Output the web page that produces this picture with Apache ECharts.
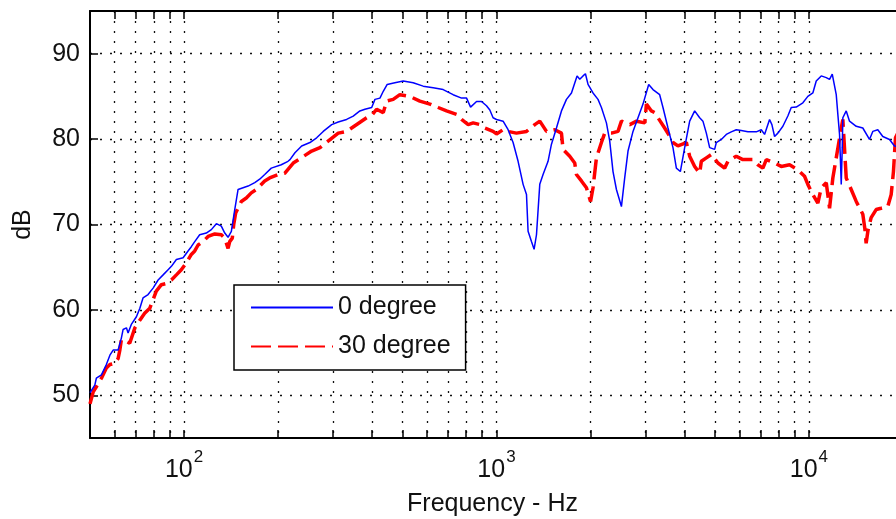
<!DOCTYPE html>
<html><head><meta charset="utf-8">
<script src="https://cdn.jsdelivr.net/npm/echarts@6/dist/echarts.min.js"></script>
<style>html,body{margin:0;padding:0;background:#fff}#c{width:896px;height:519px}</style>
</head><body><div id="c"></div>
<script>
const freq0 = [50,51.8,52.4,54.4,56.4,57.9,59.3,61.5,63.0,63.8,65.4,66.2,67.8,70.4,72.2,73.9,76.7,79.6,82.6,85.7,88.9,91.1,94.5,99.3,103,105.5,108.2,112.2,117.8,122.3,126.9,131.6,135,138.3,141.7,145.3,148.9,154.5,160.3,168.4,174.6,181.2,190.2,204.7,215.1,218.3,226.4,237.9,252.9,265.7,278.9,296.8,311.5,331.3,347.9,365.4,379.2,398.6,408.3,423.6,434.1,446.9,472.8,502.9,541.1,582.5,627.1,674.9,726.4,773,802.1,826,863.3,895.5,928.9,952,975.2,1000,1049.8,1089.2,1130.1,1172.5,1216.5,1247.4,1262.1,1294,1319.2,1342.6,1375.6,1409.3,1462.2,1499.3,1555.6,1614,1674.6,1737.5,1810.6,1846.9,1892.1,1925.9,1963.1,2036.7,2113.1,2166.8,2248.1,2303.1,2360,2420,2510.8,2572.3,2635.8,2734.7,2837.3,2943.7,3069.8,3168.3,3328.4,3410.6,3538.6,3671.4,3764,3876.6,4001.7,4152,4307.8,4469.4,4578.3,4694.6,4810.9,4871.1,4990.8,5052.9,5242.3,5438.1,5641.7,5853.1,6072.9,6377.5,6783.2,7038,7211.1,7481.5,7610.7,7762.6,7953.9,8252.5,8559.5,8777,9106.4,9561.9,9919,10291,10552,10949,11361,11641,11874,12229,12374,12530,12687,12781,12837,13162,13486,14169,14873,15623,16008,16610,17235,18106,18787,20000];
const db0 = [50.3,51.2,52.0,52.4,53.6,54.7,55.3,55.3,56.7,57.7,57.9,57.3,58.3,59.2,60.2,61.4,61.8,62.55,63.5,64.1,64.7,65.1,65.9,66.1,66.9,67.4,68.0,68.8,69.0,69.4,70.1,69.8,69.0,68.5,69.2,71.75,74.1,74.3,74.5,74.9,75.3,75.85,76.6,77.0,77.4,77.6,78.4,79.2,79.6,80.15,80.9,81.7,82.0,82.3,82.7,83.3,83.5,83.7,84.65,84.8,85.6,86.4,86.6,86.8,86.6,86.2,86.0,85.8,85.2,84.8,84.8,83.75,84.4,84.4,83.9,83.4,82.5,82.3,82.1,81.1,79.6,77.4,74.7,73.5,69.2,68.0,67.1,68.8,74.7,75.85,77.4,79.4,81.3,83.3,84.65,85.4,87.4,87.0,87.4,87.65,86.4,85.4,84.65,83.7,81.9,79.8,76.2,74.1,72.1,75.45,78.6,80.9,82.5,84.1,86.4,85.8,85.2,83.7,81.3,79.0,76.6,76.2,79.0,82.1,83.3,82.5,82.1,80.7,79.0,79.2,78.8,79.6,79.96,80.55,80.85,81.1,81.0,80.85,80.85,81.1,80.55,82.3,81.7,80.3,80.7,81.5,82.7,83.7,83.75,84.25,85.0,85.4,86.8,87.4,87.2,87.0,87.6,85.2,82.9,80.55,74.7,79.0,82.5,83.3,82.1,81.5,81.3,79.96,80.9,81.1,80.3,79.96,79.2,79.0];
const freq30 = [50,51.2,52.4,54.4,56.4,57.9,60.0,61.5,62.3,63.0,65.4,67.0,69.6,72.2,74.8,77.7,79.6,81.5,84.6,87.8,91.1,94.5,98,101.7,105.5,108.2,110.9,115,119.4,125.4,131.6,135,138.3,140,142.7,144.2,146.3,152.5,158.2,164.1,170.3,181.2,187.9,199.7,209.9,223.6,256.1,272.2,311.5,331.3,384,401.3,413.3,434.1,444.9,467,490.6,528.1,568.4,612,650.6,692,745,773,811.6,841.9,884.5,917.6,975.2,1000,1049.8,1089.2,1158.1,1247.4,1326,1375.6,1445.3,1536.4,1614,1633,1715.6,1779.9,1802.2,1870,1940.2,2000,2036.7,2088.5,2166.8,2220,2332.5,2448.4,2510.8,2671.4,2806.2,2983.3,3018.3,3131.3,3208,3287.2,3453.2,3583,3671.4,3808,4052.1,4152,4307.8,4469.4,4524.9,4694.6,4871,5113.6,5372.5,5505,5853,6144,6616,6864,7122,7303,7762.6,8153,8670,9217,9681,9919,10291,10679,10949,11361,11641,11925,12229,12687,12837,13162,13654,14169,14873,15100,15243,15450,15815,16409,17026,17875,18331,18641,18922,20000];
const db30 = [49.0,50.4,51.0,52.0,53.2,53.6,53.75,54.3,55.3,56.5,56.3,56.1,57.9,58.8,59.6,60.2,61.2,62.2,62.95,63.1,63.5,64.1,64.7,65.5,66.5,66.9,67.6,68.0,68.6,68.9,68.8,68.4,67.2,68.0,68.4,70.0,71.35,72.7,73.1,73.7,74.1,75.1,75.45,75.85,76.0,77.2,78.6,79.0,80.7,80.9,82.5,82.9,83.5,83.1,84.45,84.65,85.2,85.0,84.45,84.1,83.7,83.3,82.9,82.3,81.7,81.9,81.7,81.3,80.9,80.6,81.1,80.9,80.7,80.9,81.7,82.1,80.9,81.1,80.7,78.8,78.0,77.2,75.85,75.1,74.3,72.7,74.3,77.8,79.6,80.7,80.7,80.9,82.1,81.7,82.1,81.9,84.1,83.3,83.1,82.5,81.3,80.35,79.6,79.2,79.6,78.0,76.8,76.0,77.4,77.8,78.2,77.2,76.6,77.4,78.0,77.6,77.6,77.0,76.6,77.6,77.2,76.8,77.0,76.4,75.65,74.7,73.5,72.5,74.3,74.9,71.9,75.45,77.8,81.3,82.3,75.45,74.1,72.7,71.2,69.5,67.8,69.3,70.8,71.75,71.9,72.1,73.5,76.2,80.15,82];
const seriesNames = ['0 degree', '30 degree'];
const yTicks = [50, 60, 70, 80, 90];
const xMajor = [100, 1000, 10000];
const xAllTicks = [60,70,80,90,100,200,300,400,500,600,700,800,900,1000,2000,3000,4000,5000,6000,7000,8000,9000,10000,20000];
const xRange = [50, 20000];
const yRange = [45, 95];
const xName = 'Frequency - Hz';
const yName = 'dB';

const FONT = 'Liberation Sans, Arial, sans-serif';
const gridDots = { color: '#111', width: 1.3, type: [2, 8] };

const chart = echarts.init(document.getElementById('c'), null, { renderer: 'canvas' });
chart.setOption({
  animation: false,
  backgroundColor: '#fff',
  grid: { left: 90, top: 11, right: -7, bottom: 81, containLabel: false, outerBoundsMode: 'none' },
  xAxis: [
    {
      type: 'log', min: xRange[0], max: xRange[1], position: 'bottom',
      name: xName, nameLocation: 'middle', nameGap: 54,
      nameTextStyle: { fontSize: 25, fontFamily: FONT, color: '#111', padding: [0, 8, 0, 0] },
      axisLine: { show: true, onZero: false, lineStyle: { color: '#000', width: 2 } },
      axisTick: { show: true, inside: true, length: 8, customValues: xAllTicks, lineStyle: { color: '#000', width: 1.5 } },
      minorTick: { show: false },
      axisLabel: {
        show: true, customValues: xMajor, margin: 11,
        formatter: function (v) {
          const e = v < 10 ? Math.round(v) : Math.round(Math.log10(v));
          return '{b|10}{s|' + e + '}';
        },
        rich: {
          b: { fontSize: 25, fontFamily: FONT, color: '#111', lineHeight: 34, verticalAlign: 'bottom' },
          s: { fontSize: 17, fontFamily: FONT, color: '#111', lineHeight: 34, verticalAlign: 'top', padding: [0, 0, 0, 1] }
        }
      },
      splitLine: { show: true, lineStyle: gridDots }
    },
    {
      type: 'log', min: xRange[0], max: xRange[1], position: 'top',
      axisLine: { show: true, onZero: false, lineStyle: { color: '#000', width: 2 } },
      axisTick: { show: true, inside: true, length: 8, customValues: xAllTicks, lineStyle: { color: '#000', width: 1.5 } },
      axisLabel: { show: false },
      splitLine: { show: false }
    }
  ],
  yAxis: [{
    type: 'value', min: yRange[0], max: yRange[1], position: 'left',
    name: yName, nameLocation: 'middle', nameGap: 54, nameRotate: 90,
    nameTextStyle: { fontSize: 25, fontFamily: FONT, color: '#111' },
    axisLine: { show: true, onZero: false, lineStyle: { color: '#000', width: 2 } },
    axisTick: { show: true, inside: true, length: 8, customValues: yTicks, lineStyle: { color: '#000', width: 1.5 } },
    axisLabel: { show: true, customValues: yTicks, margin: 10, fontSize: 25, fontFamily: FONT, color: '#111' },
    splitLine: { show: true, lineStyle: gridDots }
  }],
  legend: {
    show: true, orient: 'vertical', left: 234, top: 285,
    data: seriesNames,
    padding: [10, 15, 11, 16],
    itemWidth: 82, itemHeight: 24, itemGap: 14,
    itemStyle: { opacity: 0 },
    borderColor: '#000', borderWidth: 1.5, backgroundColor: '#fff', borderRadius: 0,
    textStyle: { fontSize: 25, fontFamily: FONT, color: '#111' },
    selectedMode: false
  },
  series: [
    {
      name: seriesNames[0], type: 'line', xAxisIndex: 0, yAxisIndex: 0,
      data: freq0.map((f, i) => [f, db0[i]]),
      symbol: 'none', showSymbol: false, smooth: false,
      lineStyle: { color: '#0000ff', width: 1.5, type: 'solid' },
      itemStyle: { color: '#0000ff' }, z: 3
    },
    {
      name: seriesNames[1], type: 'line', xAxisIndex: 0, yAxisIndex: 0,
      data: freq30.map((f, i) => [f, db30[i]]),
      symbol: 'none', showSymbol: false, smooth: false,
      lineStyle: { color: '#ff0000', width: 3.5, type: [20, 7] },
      itemStyle: { color: '#ff0000' }, z: 2
    }
  ]
});
</script>
</body></html>
